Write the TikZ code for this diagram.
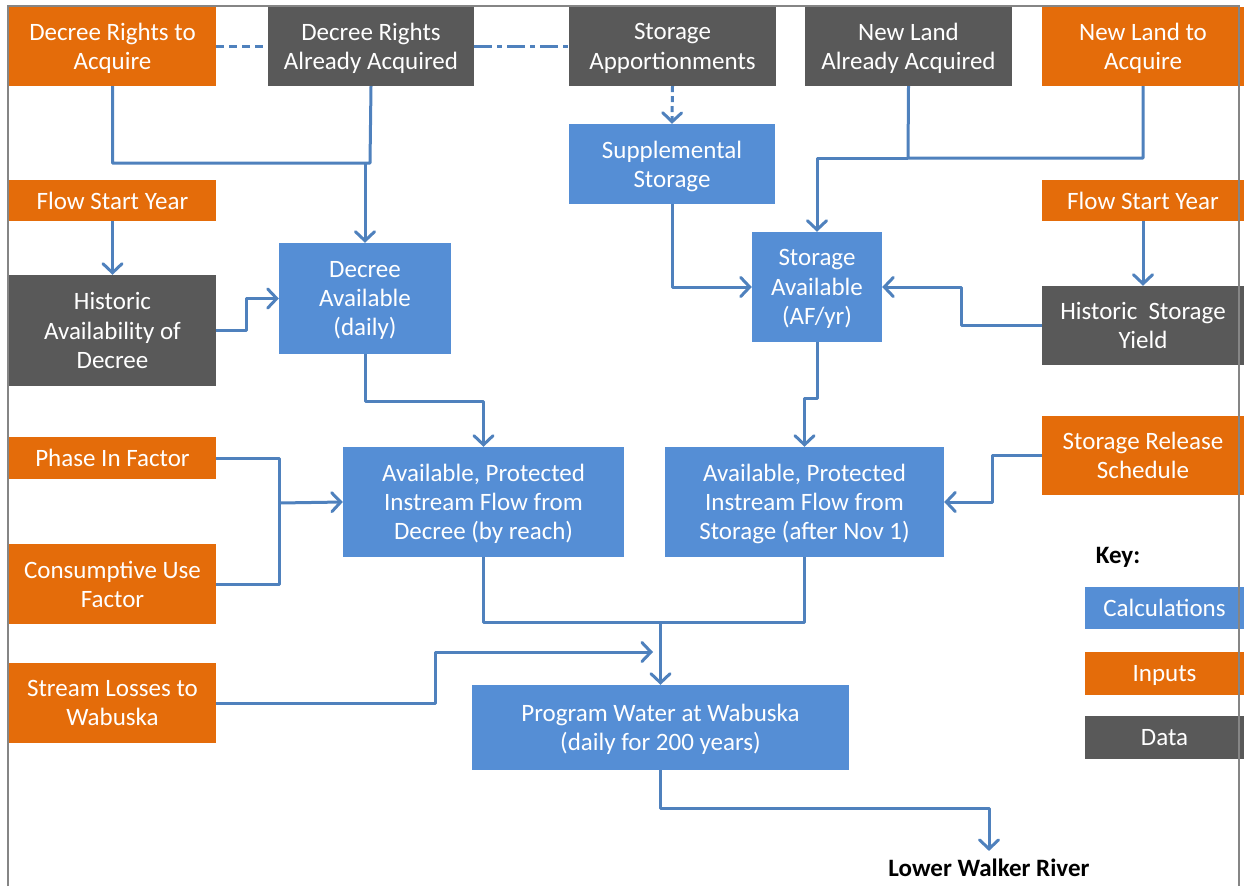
\documentclass[tikz,border=0pt]{standalone}
\usepackage{fontspec}
\setmainfont{Carlito}
\usepackage{xcolor}
\usetikzlibrary{arrows.meta,shapes,positioning}

\definecolor{calcblue}{HTML}{558ED5}
\definecolor{inorange}{HTML}{E46C0A}
\definecolor{datagray}{HTML}{595959}
\definecolor{flowblue}{HTML}{4F81BD}
\definecolor{framegray}{HTML}{858585}

\begin{document}
\begin{tikzpicture}[x=1pt, y=-1pt,
        box/.style={inner sep=0pt, align=center, text=white, text depth=0pt,
                font=\fontsize{25}{29.3}\selectfont},
        calcbox/.style={box, fill=calcblue},
        inbox/.style={box, fill=inorange},
        databox/.style={box, fill=datagray},
        flow/.style={draw=flowblue, line width=3pt, line join=round,
                >={Straight Barb[length=9pt,width=19pt,line cap=round]}}]
        \useasboundingbox (0,0) rectangle (1244,886);

        \node[inbox, minimum width=207, minimum height=79] (dra) at (112.5,46.5) {Decree Rights to\\Acquire};
        \node[databox, minimum width=206, minimum height=79] (dra2) at (371,46.5) {Decree Rights\\Already Acquired};
        \node[databox, minimum width=207, minimum height=79] (sap) at (672.5,46.5) {Storage\\Apportionments};
        \node[databox, minimum width=207, minimum height=79] (nlaa) at (908.5,46.5) {New Land\\Already Acquired};
        \node[inbox, minimum width=202, minimum height=79] (nla) at (1143,46.5) {New Land to\\Acquire};

        \node[calcbox, minimum width=206, minimum height=80] (supp) at (672,164) {Supplemental\\Storage};
        \node[inbox, minimum width=207, minimum height=41] (fsy1) at (112.5,200.5) {Flow Start Year};
        \node[inbox, minimum width=202, minimum height=41] (fsy2) at (1143,200.5) {Flow Start Year};

        \node[databox, minimum width=207, minimum height=111] (hist) at (112.5,330.5) {Historic\\Availability of\\Decree};
        \node[calcbox, minimum width=172, minimum height=111] (decav) at (365,298.5) {Decree\\Available\\(daily)};
        \node[calcbox, minimum width=130, minimum height=110] (stav) at (817,287) {Storage\\Available\\(AF/yr)};
        \node[databox, minimum width=202, minimum height=79] (hsy) at (1143,325.5) {Historic\ \ Storage\\Yield};

        \node[inbox, minimum width=207, minimum height=42] (phase) at (112.5,458) {Phase In Factor};
        \node[calcbox, minimum width=281, minimum height=110] (apd) at (483.5,502) {Available, Protected\\Instream Flow from\\Decree (by reach)};
        \node[calcbox, minimum width=279, minimum height=110] (aps) at (804.5,502) {Available, Protected\\Instream Flow from\\Storage (after Nov 1)};
        \node[inbox, minimum width=202, minimum height=79] (srs) at (1143,455.5) {Storage Release\\Schedule};

        \node[inbox, minimum width=207, minimum height=80] (cons) at (112.5,584) {Consumptive Use\\Factor};
        \node[inbox, minimum width=207, minimum height=80] (loss) at (112.5,703) {Stream Losses to\\Wabuska};
        \node[calcbox, minimum width=377, minimum height=85] (pw) at (660.5,727.5) {Program Water at Wabuska\\(daily for 200 years)};
        \node[font=\fontsize{25}{29.3}\selectfont\bfseries, inner sep=0pt] (lwr) at (989,868) {Lower Walker River};

        % key
        \node[font=\fontsize{25}{29.3}\selectfont\bfseries, inner sep=0pt] (key) at (1118,557) {Key:};
        \node[calcbox, minimum width=159, minimum height=42] (kcalc) at (1164.5,608) {Calculations};
        \node[inbox, minimum width=159, minimum height=43] (kin) at (1164.5,673.5) {Inputs};
        \node[databox, minimum width=159, minimum height=43] (kdata) at (1164.5,737.5) {Data};

        \coordinate (jd) at (370,163);
        \coordinate (jn) at (908,158);
        \coordinate (jp) at (279,503);
        \coordinate (jw) at (660.5,622);
        \coordinate (jl) at (653,652);
        \coordinate (jr) at (989,808);

        \draw[flow, dash pattern=on 8pt off 5pt] (dra) -- (dra2);
        \draw[flow, dash pattern=on 18pt off 5pt on 5pt off 5pt] (dra2) -- (sap);
        \draw[flow, ->, dash pattern=on 6pt off 4pt] (sap.south) -- (supp.north);

        \draw[flow] (dra.south) |- (jd) -- (dra2.south);
        \draw[flow, ->] (decav.north |- jd) -- (decav.north);
        \draw[flow, ->] (fsy1) -- (hist);
        \draw[flow, ->] (hist.east) -- ++(30,0) |- (decav.west);
        \draw[flow, ->] (decav.south) -- ++(0,47) -| (apd.north);
        \draw[flow] (phase.east) -| (jp) |- (cons.east);
        \draw[flow, ->] (jp) -- (apd.west);

        \draw[flow, ->] (supp.south) |- (stav.west);
        \draw[flow] (nla.south) |- (jn) -- (nlaa.south);
        \draw[flow, ->] (jn) -| (stav.north);
        \draw[flow, ->] (fsy2) -- (hsy);
        \draw[flow, ->] (hsy.west) -- ++(-80,0) |- (stav.east);
        \draw[flow, ->] (stav.south) -- ++(0,56) -| (aps.north);
        \draw[flow, ->] (srs.west) -- ++(-49,0) |- (aps.east);

        \draw[flow] (apd.south) |- (jw) -| (aps.south);
        \draw[flow, ->] (jw) -- (pw.north);
        \draw[flow, ->] (loss.east) -- ++(219,0) |- (jl);
        \draw[flow, ->] (pw.south) |- (jr) -- ([yshift=8pt]lwr.north);

        % frame
        \draw[framegray, line width=2.5pt] (8,886) -- (8,6) -- (1239,6) -- (1239,886);
\end{tikzpicture}
\end{document}
